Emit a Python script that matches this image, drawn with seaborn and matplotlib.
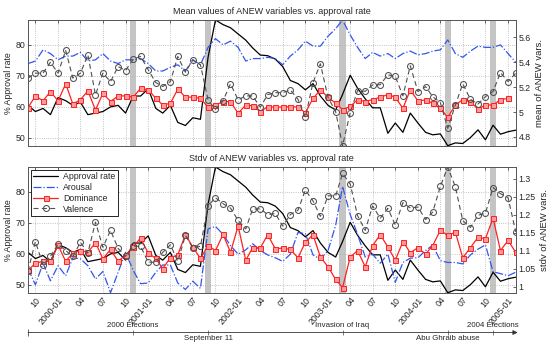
import numpy as np
import pandas as pd
import matplotlib
matplotlib.use('Agg')
import matplotlib.pyplot as plt
import seaborn as sns
from matplotlib.lines import Line2D

sns.set_style('white')
plt.rcParams['font.family'] = ['Liberation Sans', 'DejaVu Sans']

# Monthly data, Sep 1999 .. Feb 2005
months = pd.date_range('1999-09-01', '2005-02-01', freq='MS')

approval = [60.5, 58.5, 59.5, 57.5, 63.0, 62.0, 60.5, 61.5, 57.5, 58.0,
            58.5, 60.0, 60.5, 58.0, 63.5, 63.5, 65.8, 59.5, 58.0, 60.5,
            55.0, 54.0, 56.5, 56.0, 76.0, 88.0, 86.5, 85.5, 83.5, 81.5,
            79.0, 76.7, 76.5, 75.4, 73.0, 68.5, 67.5, 65.5, 67.5, 63.5,
            60.5, 59.0, 64.0, 70.2, 66.0, 62.6, 59.7, 59.7, 51.5, 54.8,
            51.8, 58.0, 54.8, 51.8, 51.0, 51.3, 47.5, 48.4, 48.2, 50.1,
            52.6, 49.4, 54.1, 51.2, 52.0, 52.5]

arousal_mean = [5.39, 5.41, 5.50, 5.47, 5.42, 5.45, 5.45, 5.48, 5.41, 5.42,
                5.47, 5.41, 5.39, 5.42, 5.42, 5.43, 5.39, 5.33, 5.33, 5.36,
                5.38, 5.33, 5.42, 5.38, 5.52, 5.59, 5.54, 5.57, 5.52, 5.41,
                5.43, 5.43, 5.44, 5.43, 5.38, 5.45, 5.50, 5.57, 5.53, 5.53,
                5.61, 5.67, 5.74, 5.62, 5.52, 5.43, 5.48, 5.45, 5.47, 5.43,
                5.47, 5.49, 5.46, 5.47, 5.49, 5.50, 5.58, 5.47, 5.44, 5.49,
                5.53, 5.52, 5.52, 5.54, 5.47, 5.40]

dominance_mean = [5.035, 5.13, 5.09, 5.165, 5.09, 5.227, 5.065, 5.10, 5.17, 5.017,
                  5.15, 5.085, 5.13, 5.13, 5.12, 5.19, 5.18, 5.11, 5.057, 5.07,
                  5.184, 5.12, 5.12, 5.11, 5.04, 5.057, 5.084, 5.084, 4.99, 5.057,
                  5.05, 5.003, 5.044, 5.04, 5.04, 5.044, 5.04, 4.995, 5.11, 5.178,
                  5.12, 5.071, 5.02, 5.045, 5.10, 5.085, 5.10, 5.12, 5.14, 5.12,
                  5.03, 5.178, 5.09, 5.097, 5.071, 5.03, 4.958, 5.057, 5.10, 5.084,
                  5.023, 5.057, 5.057, 5.10, 5.11, np.nan]

valence_mean = [5.273, 5.313, 5.313, 5.40, 5.313, 5.495, 5.273, 5.313, 5.46, 5.138,
                5.313, 5.245, 5.366, 5.334, 5.426, 5.447, 5.34, 5.237, 5.205, 5.245,
                5.447, 5.32, 5.42, 5.38, 5.098, 5.022, 5.092, 5.227, 5.098, 5.13,
                5.13, 5.039, 5.14, 5.156, 5.156, 5.178, 5.103, 4.958, 5.237, 5.388,
                5.119, 5.003, 4.73, 4.995, 5.173, 5.167, 5.218, 5.22, 5.30, 5.286,
                5.13, 5.372, 5.165, 5.205, 5.124, 5.076, 4.869, 5.057, 5.227, 5.103,
                5.065, 5.124, 5.165, 5.318, 5.245, 5.313]

arousal_std = [1.05, 1.005, 1.065, 1.016, 1.058, 1.03, 1.08, 1.077, 1.058, 1.021,
               1.042, 0.983, 1.04, 1.095, 1.045, 1.008, 1.01, 1.04, 1.06, 1.06,
               1.01, 0.992, 1.015, 0.995, 1.16, 1.167, 1.145, 1.114, 1.09, 1.102,
               1.119, 1.10, 1.088, 1.08, 1.07, 1.09, 1.15, 1.147, 1.088, 1.076,
               1.10, 1.17, 1.278, 1.20, 1.145, 1.082, 1.09, 1.065, 1.09, 1.012,
               1.067, 1.079, 1.08, 1.10, 1.115, 1.072, 1.067, 1.067, 1.063, 1.088,
               1.104, 1.116, 1.041, 1.036, 1.03, 1.04]

dominance_std = [1.045, 1.065, 1.07, 1.07, 1.115, 1.07, 1.093, 1.10, 1.095, 1.122,
                 1.077, 1.103, 1.07, 1.088, 1.11, 1.135, 1.093, 1.078, 1.05, 1.08,
                 1.088, 1.144, 1.11, 1.078, 1.114, 1.10, 1.145, 1.095, 1.168, 1.073,
                 1.108, 1.107, 1.144, 1.105, 1.107, 1.103, 1.08, 1.123, 1.144, 1.082,
                 1.055, 1.02, 0.997, 1.082, 1.10, 1.055, 1.114, 1.144, 1.11, 1.073,
                 1.125, 1.094, 1.108, 1.09, 1.114, 1.156, 1.142, 1.151, 1.08, 1.108,
                 1.137, 1.133, 1.19, 1.10, 1.128, 1.095]

valence_std = [1.043, 1.125, 1.06, 1.084, 1.118, 1.10, 1.084, 1.123, 1.093, 1.179,
               1.109, 1.156, 1.106, 1.084, 1.112, 1.112, 1.068, 1.067, 1.095, 1.116,
               1.07, 1.142, 1.107, 1.112, 1.224, 1.247, 1.23, 1.218, 1.184, 1.16,
               1.215, 1.216, 1.20, 1.203, 1.168, 1.20, 1.212, 1.268, 1.238, 1.195,
               1.252, 1.252, 1.314, 1.285, 1.197, 1.156, 1.224, 1.19, 1.217, 1.171,
               1.233, 1.218, 1.221, 1.186, 1.207, 1.278, 1.332, 1.277, 1.183, 1.164,
               1.198, 1.204, 1.275, 1.258, 1.247, 1.152]

event_names = ['2000 Elections', 'September 11', 'Invasion of Iraq',
               'Abu Ghraib abuse', '2004 Elections']
event_dates = pd.to_datetime(['2000-11-01', '2001-09-01', '2003-03-01',
                              '2004-05-01', '2004-11-01'])
event_above = [True, False, True, False, True]

# tick marks every 3 months
tick_dates = pd.date_range('1999-10-01', '2005-01-01', freq='3MS')
tick_labels = [d.strftime('%Y-%m') if d.month == 1 else d.strftime('%m') for d in tick_dates]

c_app = 'k'
c_aro = '#3355ee'
c_dom = '#ff2020'
c_val = '#505050'
fs = 6.3
val_dash = (0, (4.5, 3))

fig = plt.figure(figsize=(5.48, 3.44), dpi=100)
ax_top = fig.add_axes([0.0511, 0.5765, 0.890, 0.3654])
ax_bot = fig.add_axes([0.0511, 0.1491, 0.890, 0.3654])


def draw_panel(ax, aro, dom, val, title, rlabel, rticks, rticklabels):
    half = pd.Timedelta(days=13)
    for d in event_dates:
        ax.axvspan(d - half, d + half, color='#c4c4c4', lw=0, zorder=0)
    sns.lineplot(x=months, y=approval, ax=ax, color=c_app, lw=0.9, zorder=3)
    ax.set_ylim(min(approval), max(approval))
    ax.set_yticks([50, 60, 70, 80])
    ax.set_xlim(months[0], months[-1])
    ax.set_xticks(tick_dates)
    ax.grid(True, ls=':', color='#b0b0b0', lw=0.6)
    ax.set_ylabel('% Approval rate', fontsize=fs, labelpad=2)
    ax.set_title(title, fontsize=fs + 0.2, pad=4)

    ax2 = ax.twinx()
    sns.lineplot(x=months, y=aro, ax=ax2, color=c_aro, lw=0.9, linestyle='-.')
    sns.lineplot(x=months, y=dom, ax=ax2, color=c_dom, lw=0.9, marker='s',
                 markersize=3.6, markeredgecolor=c_dom, markerfacecolor='#ff9a9a',
                 markeredgewidth=0.7)
    sns.lineplot(x=months, y=val, ax=ax2, color=c_val, lw=0.8,
                 linestyle=val_dash, marker='o', markersize=4.3,
                 markerfacecolor='none', markeredgecolor=c_val, markeredgewidth=0.75)
    vals = np.concatenate([aro, dom, val])
    ax2.set_ylim(np.nanmin(vals), np.nanmax(vals))
    ax2.set_yticks(rticks)
    ax2.set_yticklabels(rticklabels)
    ax2.set_ylabel(rlabel, fontsize=fs + 0.5, labelpad=3)
    ax2.set_xlim(months[0], months[-1])

    for a in (ax, ax2):
        a.tick_params(direction='in', length=2.5, width=0.5, labelsize=fs, pad=2)
        for s in a.spines.values():
            s.set_color('#555555')
            s.set_linewidth(0.6)
    ax.tick_params(axis='x', top=True)
    return ax2


draw_panel(ax_top, arousal_mean, dominance_mean, valence_mean,
           'Mean values of ANEW variables vs. approval rate', 'mean of ANEW vars.',
           [4.8, 5.0, 5.2, 5.4, 5.6], ['4.8', '5', '5.2', '5.4', '5.6'])
ax_top.tick_params(labelbottom=False)
ax_top.set_xlabel('')

ax2_bot = draw_panel(ax_bot, arousal_std, dominance_std, valence_std,
                     'Stdv of ANEW variables vs. approval rate', 'stdv of ANEW vars.',
                     [1.0, 1.05, 1.1, 1.15, 1.2, 1.25, 1.3],
                     ['1', '1.05', '1.1', '1.15', '1.2', '1.25', '1.3'])
ax_bot.set_xticklabels(tick_labels, rotation=50, ha='right', rotation_mode='anchor')
ax_bot.set_xlabel('')

# legend
handles = [
    Line2D([], [], color=c_app, lw=0.9),
    Line2D([], [], color=c_aro, lw=0.9, ls='-.'),
    Line2D([], [], color=c_dom, lw=0.9, marker='s', markersize=3.6,
           markeredgecolor=c_dom, markerfacecolor='#ff9a9a', markeredgewidth=0.7),
    Line2D([], [], color=c_val, lw=0.8, ls=val_dash, marker='o', markersize=4.3,
           markerfacecolor='none', markeredgecolor=c_val, markeredgewidth=0.75),
]
leg = ax2_bot.legend(handles, ['Approval rate', 'Arousal', 'Dominance', 'Valence'],
                     loc='upper left', fontsize=fs, frameon=True, fancybox=False,
                     edgecolor='k', framealpha=1, borderpad=0.3, labelspacing=0.2,
                     handlelength=2.8, handletextpad=0.6, borderaxespad=0.3)
leg.get_frame().set_linewidth(0.6)

# event timeline
ax_ev = fig.add_axes([0.0511, 0.0, 0.890, 0.0988])
ax_ev.set_xlim(months[0], months[-1])
ax_ev.set_ylim(0, 1)
ax_ev.axis('off')
line_y = 0.338
ax_ev.annotate('', xy=(months[-1] + pd.Timedelta(days=8), line_y),
               xytext=(months[0], line_y),
               arrowprops=dict(arrowstyle='-|>', color='0.2', lw=0.6,
                               mutation_scale=7, shrinkA=0, shrinkB=0),
               annotation_clip=False)
ax_ev.vlines([months[0]], line_y - 0.09, line_y + 0.09, color='0.3', lw=0.6)
ax_ev.vlines(event_dates, line_y - 0.06, line_y + 0.06, color='0.3', lw=0.5)
for name, d, above in zip(event_names, event_dates, event_above):
    ax_ev.text(d, 0.55 if above else 0.15, name, fontsize=fs - 0.6,
               ha='center', va='center', clip_on=False)

fig.savefig('out.png', dpi=100)
